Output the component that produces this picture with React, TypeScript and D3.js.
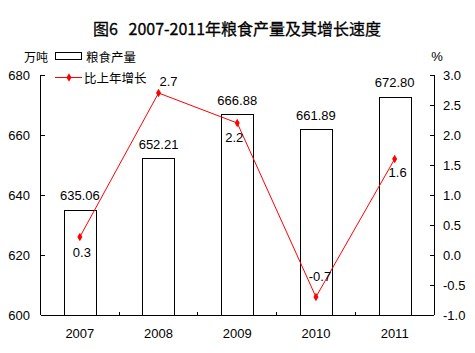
import React, { useEffect, useRef } from 'react';
import * as d3 from 'd3';

const years = ['2007', '2008', '2009', '2010', '2011'];
const output = [635.06, 652.21, 666.88, 661.89, 672.8];
const growth = [0.3, 2.7, 2.2, -0.7, 1.6];
const outputTicks = [600, 620, 640, 660, 680];
const growthTicks = [-1.0, -0.5, 0.0, 0.5, 1.0, 1.5, 2.0, 2.5, 3.0];

// where each growth label sits relative to its point
const growthLabelOffset = [[2, 15], [10, -12], [-3, 14], [4, -21], [3, 13]];

const numFont = '"Liberation Sans", Arial, sans-serif';
const cjkFont = '"Noto Sans CJK SC", sans-serif';

export default function App() {
  const ref = useRef<SVGSVGElement>(null);

  useEffect(() => {
    const width = 475;
    const height = 353;
    const left = 40.5;
    const right = 434;
    const top = 75;
    const bottom = 315;

    const svg = d3.select(ref.current);
    svg.selectAll('*').remove();
    svg.attr('width', width).attr('height', height);

    const x = d3.scaleBand().domain(years).range([left, right]).padding(0);
    const yL = d3.scaleLinear().domain([600, 680]).range([bottom, top]);
    const yR = d3.scaleLinear().domain([-1, 3]).range([bottom, top]);
    const barW = x.bandwidth() * 0.41;
    const cx = (d: string) => (x(d) as number) + x.bandwidth() / 2;

    // title
    svg.append('text')
      .attr('x', 237).attr('y', 35)
      .attr('text-anchor', 'middle')
      .attr('font-family', cjkFont)
      .attr('font-size', 16)
      .attr('fill', '#000')
      .attr('stroke', '#000')
      .attr('stroke-width', 0.3)
      .style('white-space', 'pre')
      .text('图6   2007-2011年粮食产量及其增长速度');

    // units
    svg.append('text')
      .attr('x', 36).attr('y', 56)
      .attr('text-anchor', 'middle')
      .attr('dominant-baseline', 'central')
      .attr('font-family', cjkFont).attr('font-size', 12)
      .text('万吨');
    svg.append('text')
      .attr('x', 437).attr('y', 56)
      .attr('text-anchor', 'middle')
      .attr('dominant-baseline', 'central')
      .attr('font-family', numFont).attr('font-size', 13)
      .text('%');

    // bars
    svg.selectAll('rect.bar')
      .data(output)
      .join('rect')
      .attr('class', 'bar')
      .attr('x', (d, i) => Math.round(cx(years[i]) - barW / 2) + 0.5)
      .attr('y', d => Math.round(yL(d)) + 0.5)
      .attr('width', Math.round(barW))
      .attr('height', d => bottom - Math.round(yL(d)))
      .attr('fill', '#fff')
      .attr('stroke', '#000')
      .attr('stroke-width', 1);

    svg.selectAll('text.barlab')
      .data(output)
      .join('text')
      .attr('class', 'barlab')
      .attr('x', (d, i) => cx(years[i]))
      .attr('y', d => yL(d) - 14)
      .attr('text-anchor', 'middle')
      .attr('dominant-baseline', 'central')
      .attr('font-family', numFont).attr('font-size', 13)
      .text(d => d.toFixed(2));

    // axes
    const g = svg.append('g').attr('stroke', '#000').attr('stroke-width', 1).attr('shape-rendering', 'crispEdges');
    g.append('line').attr('x1', left).attr('x2', left).attr('y1', top).attr('y2', bottom);
    g.append('line').attr('x1', right).attr('x2', right).attr('y1', top).attr('y2', bottom);
    g.append('line').attr('x1', left).attr('x2', right).attr('y1', bottom).attr('y2', bottom);

    g.selectAll('line.lt').data(outputTicks).join('line')
      .attr('x1', left).attr('x2', left + 4)
      .attr('y1', d => yL(d)).attr('y2', d => yL(d));
    g.selectAll('line.rt').data(growthTicks).join('line')
      .attr('x1', right - 4).attr('x2', right)
      .attr('y1', d => yR(d)).attr('y2', d => yR(d));
    g.selectAll('line.bt').data(years.slice(1)).join('line')
      .attr('x1', d => x(d) as number).attr('x2', d => x(d) as number)
      .attr('y1', bottom - 3).attr('y2', bottom);

    svg.selectAll('text.ll').data(outputTicks).join('text')
      .attr('class', 'll')
      .attr('x', 30).attr('y', d => yL(d))
      .attr('text-anchor', 'end')
      .attr('dominant-baseline', 'central')
      .attr('font-family', numFont).attr('font-size', 13)
      .text(d => d);
    svg.selectAll('text.rl').data(growthTicks).join('text')
      .attr('class', 'rl')
      .attr('x', 443).attr('y', d => yR(d))
      .attr('text-anchor', 'start')
      .attr('dominant-baseline', 'central')
      .attr('font-family', numFont).attr('font-size', 13)
      .text(d => d.toFixed(1));
    svg.selectAll('text.xl').data(years).join('text')
      .attr('class', 'xl')
      .attr('x', d => cx(d)).attr('y', 333)
      .attr('text-anchor', 'middle')
      .attr('dominant-baseline', 'central')
      .attr('font-family', numFont).attr('font-size', 13)
      .text(d => d);

    // growth line
    const line = d3.line<number>()
      .x((d, i) => cx(years[i]))
      .y(d => yR(d));
    svg.append('path')
      .datum(growth)
      .attr('d', line)
      .attr('fill', 'none')
      .attr('stroke', '#ff0000')
      .attr('stroke-width', 1);

    const diamond = d3.symbol().type(d3.symbolDiamond).size(22);
    svg.selectAll('path.pt').data(growth).join('path')
      .attr('class', 'pt')
      .attr('d', diamond)
      .attr('transform', (d, i) => `translate(${cx(years[i])},${yR(d)})`)
      .attr('fill', '#ff0000');

    svg.selectAll('text.gl').data(growth).join('text')
      .attr('class', 'gl')
      .attr('x', (d, i) => cx(years[i]) + growthLabelOffset[i][0])
      .attr('y', (d, i) => yR(d) + growthLabelOffset[i][1])
      .attr('text-anchor', 'middle')
      .attr('dominant-baseline', 'central')
      .attr('font-family', numFont).attr('font-size', 13)
      .text(d => d.toFixed(1));

    // legend
    svg.append('rect')
      .attr('x', 55.5).attr('y', 52.5).attr('width', 26).attr('height', 7)
      .attr('fill', '#fff').attr('stroke', '#000');
    svg.append('text')
      .attr('x', 86).attr('y', 56)
      .attr('dominant-baseline', 'central')
      .attr('font-family', cjkFont).attr('font-size', 12.5)
      .text('粮食产量');
    svg.append('line')
      .attr('x1', 55).attr('x2', 82).attr('y1', 77.5).attr('y2', 77.5)
      .attr('stroke', '#ff0000');
    svg.append('path')
      .attr('d', diamond)
      .attr('transform', 'translate(69,77.5)')
      .attr('fill', '#ff0000');
    svg.append('text')
      .attr('x', 84).attr('y', 77)
      .attr('dominant-baseline', 'central')
      .attr('font-family', cjkFont).attr('font-size', 12.5)
      .text('比上年增长');
  }, []);

  return (
    <svg ref={ref} style={{ position: 'absolute', left: 0, top: 0, background: '#fff' }} />
  );
}
